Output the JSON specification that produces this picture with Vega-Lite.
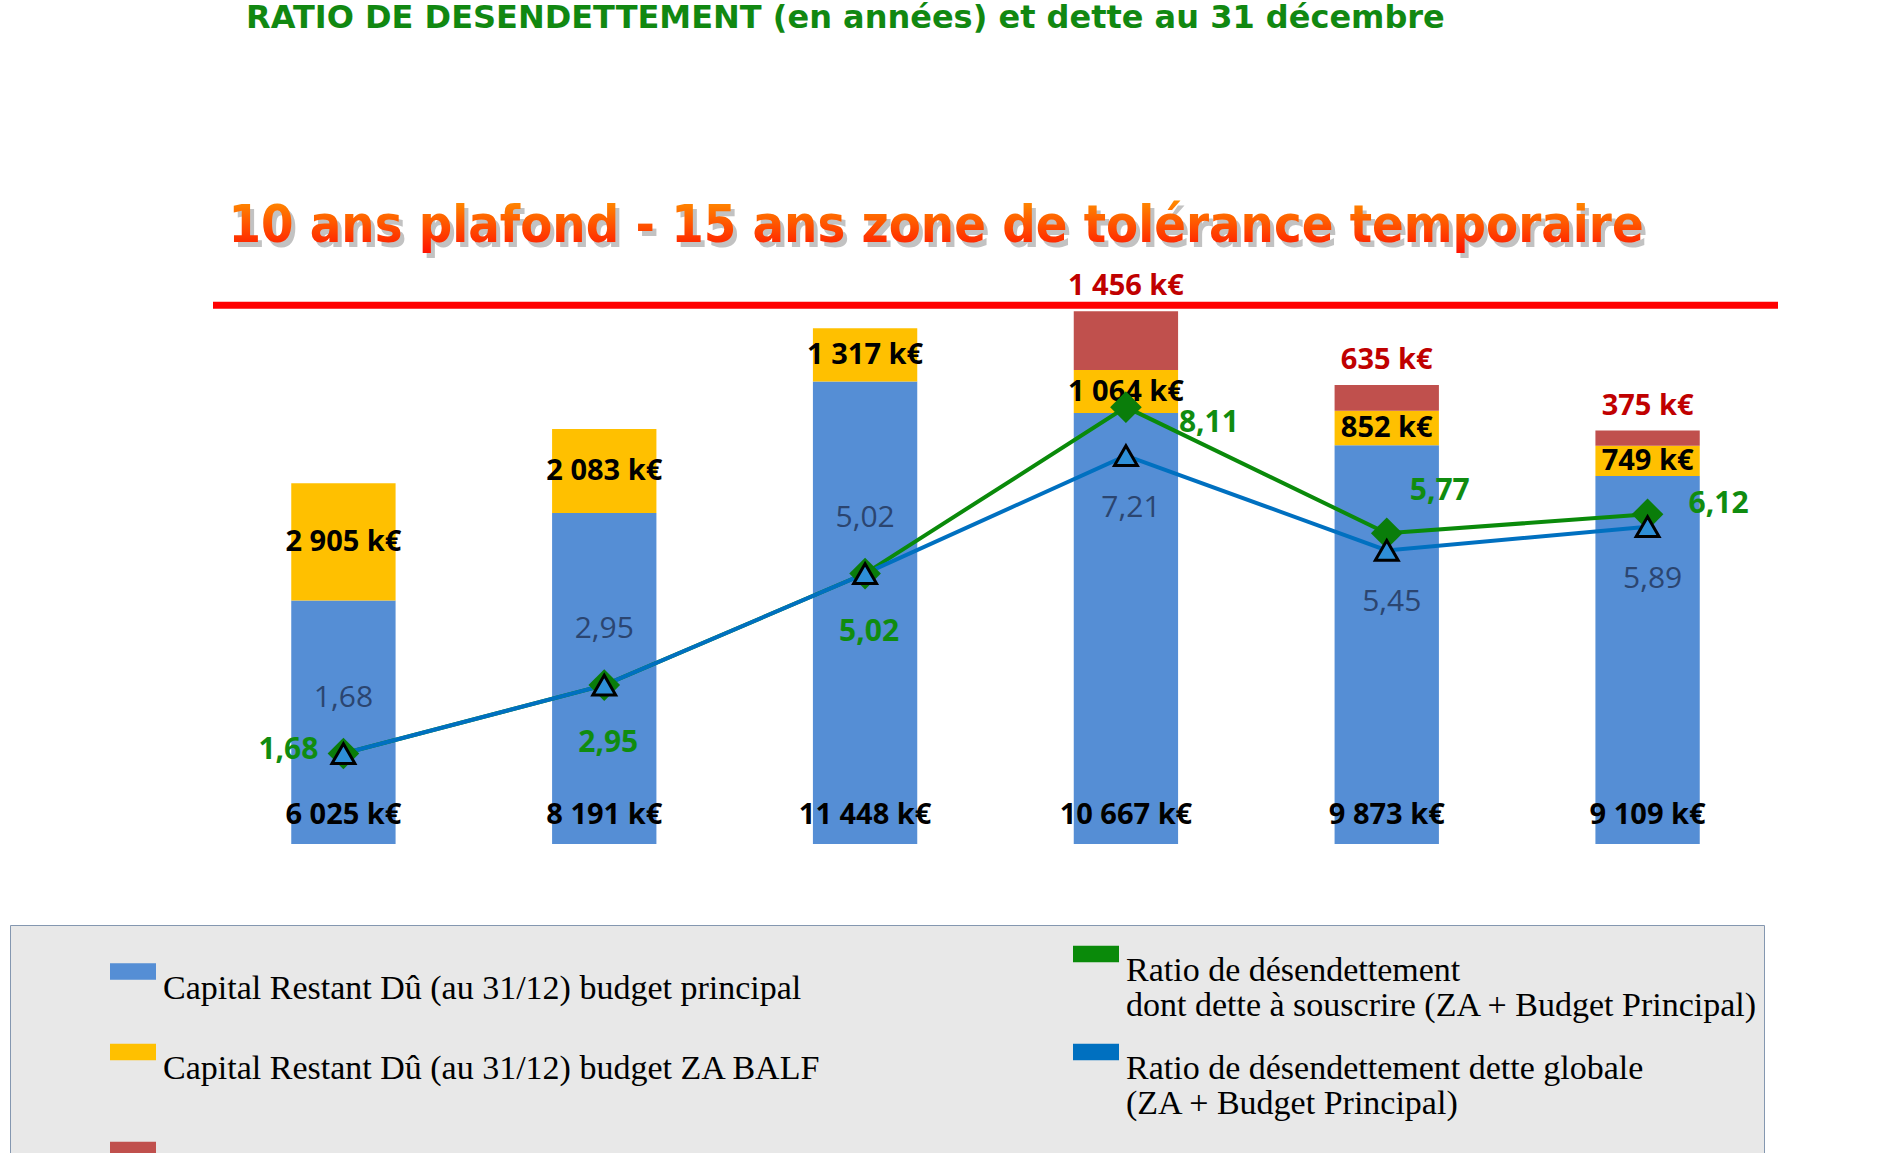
{
  "$schema": "https://vega.github.io/schema/vega-lite/v6.json",
  "width": 1565,
  "height": 808,
  "autosize": {"type": "none"},
  "padding": {"left": 213, "top": 36, "right": 105, "bottom": 309},
  "background": "white",
  "config": {
    "view": {"stroke": null},
    "locale": {"number": {"decimal": ",", "thousands": " ", "grouping": [3], "currency": ["", " k€"]}},
    "style": {"guide-label": {"lineHeight": 35}}
  },
  "title": {
    "text": "RATIO DE DESENDETTEMENT (en années) et dette au 31 décembre",
    "anchor": "start",
    "frame": "group",
    "dx": 33,
    "offset": -24,
    "baseline": "alphabetic",
    "font": "DejaVu Sans",
    "fontSize": 32,
    "fontWeight": "bold",
    "color": "#118811",
    "zindex": 1
  },
  "datasets": {
    "dette": [
      {"annee": "2017", "serie": "Capital Restant Dû (au 31/12) budget principal", "valeur": 6025},
      {"annee": "2017", "serie": "Capital Restant Dû (au 31/12) budget ZA BALF", "valeur": 2905},
      {"annee": "2018", "serie": "Capital Restant Dû (au 31/12) budget principal", "valeur": 8191},
      {"annee": "2018", "serie": "Capital Restant Dû (au 31/12) budget ZA BALF", "valeur": 2083},
      {"annee": "2019", "serie": "Capital Restant Dû (au 31/12) budget principal", "valeur": 11448},
      {"annee": "2019", "serie": "Capital Restant Dû (au 31/12) budget ZA BALF", "valeur": 1317},
      {"annee": "2020", "serie": "Capital Restant Dû (au 31/12) budget principal", "valeur": 10667},
      {"annee": "2020", "serie": "Capital Restant Dû (au 31/12) budget ZA BALF", "valeur": 1064},
      {"annee": "2020", "serie": "Dette à souscrire selon besoin et PPI", "valeur": 1456},
      {"annee": "2021", "serie": "Capital Restant Dû (au 31/12) budget principal", "valeur": 9873},
      {"annee": "2021", "serie": "Capital Restant Dû (au 31/12) budget ZA BALF", "valeur": 852},
      {"annee": "2021", "serie": "Dette à souscrire selon besoin et PPI", "valeur": 635},
      {"annee": "2022", "serie": "Capital Restant Dû (au 31/12) budget principal", "valeur": 9109},
      {"annee": "2022", "serie": "Capital Restant Dû (au 31/12) budget ZA BALF", "valeur": 749},
      {"annee": "2022", "serie": "Dette à souscrire selon besoin et PPI", "valeur": 375}
    ],
    "ratios": [
      {"annee": "2017", "serie": "Ratio de désendettement dont dette à souscrire (ZA + Budget Principal)", "valeur": 1.68},
      {"annee": "2018", "serie": "Ratio de désendettement dont dette à souscrire (ZA + Budget Principal)", "valeur": 2.95},
      {"annee": "2019", "serie": "Ratio de désendettement dont dette à souscrire (ZA + Budget Principal)", "valeur": 5.02},
      {"annee": "2020", "serie": "Ratio de désendettement dont dette à souscrire (ZA + Budget Principal)", "valeur": 8.11},
      {"annee": "2021", "serie": "Ratio de désendettement dont dette à souscrire (ZA + Budget Principal)", "valeur": 5.77},
      {"annee": "2022", "serie": "Ratio de désendettement dont dette à souscrire (ZA + Budget Principal)", "valeur": 6.12},
      {"annee": "2017", "serie": "Ratio de désendettement dette globale (ZA + Budget Principal)", "valeur": 1.68},
      {"annee": "2018", "serie": "Ratio de désendettement dette globale (ZA + Budget Principal)", "valeur": 2.95},
      {"annee": "2019", "serie": "Ratio de désendettement dette globale (ZA + Budget Principal)", "valeur": 5.02},
      {"annee": "2020", "serie": "Ratio de désendettement dette globale (ZA + Budget Principal)", "valeur": 7.21},
      {"annee": "2021", "serie": "Ratio de désendettement dette globale (ZA + Budget Principal)", "valeur": 5.45},
      {"annee": "2022", "serie": "Ratio de désendettement dette globale (ZA + Budget Principal)", "valeur": 5.89}
    ]
  },
  "layer": [
    {
      "layer": [
        {
          "data": {"name": "dette"},
          "transform": [{"calculate": "indexof(['Capital Restant Dû (au 31/12) budget principal', 'Capital Restant Dû (au 31/12) budget ZA BALF', 'Dette à souscrire selon besoin et PPI'], datum.serie)", "as": "rang"}],
          "mark": {"type": "bar", "width": {"band": 0.4}},
          "encoding": {
            "x": {
              "field": "annee", "type": "nominal",
              "scale": {"paddingInner": 0, "paddingOuter": 0},
              "axis": {"title": null, "labelAngle": 0, "labelFont": "Liberation Serif", "labelFontWeight": "bold", "labelFontSize": 33, "labelColor": "#000000", "labelPadding": 8, "tickBand": "extent", "ticks": true, "tickSize": 10, "tickColor": "#A6A6A6", "tickWidth": 2, "domainColor": "#A6A6A6", "domainWidth": 2, "grid": false}
            },
            "y": {
              "field": "valeur", "type": "quantitative", "stack": "zero",
              "scale": {"domain": [0, 20000], "nice": false},
              "axis": {"title": null, "values": [0, 2500, 5000, 7500, 10000, 12500, 15000, 17500, 20000], "format": "$,d", "labelFont": "Liberation Serif", "labelFontWeight": "bold", "labelFontSize": 33, "labelColor": "#000000", "labelPadding": 23, "tickSize": 10, "tickColor": "#A6A6A6", "tickWidth": 2, "domainColor": "#A6A6A6", "domainWidth": 2, "grid": true, "gridColor": "#CFCFCF", "gridWidth": 2}
            },
            "color": {
              "field": "serie", "type": "nominal",
              "scale": {
                "domain": ["Capital Restant Dû (au 31/12) budget principal", "Capital Restant Dû (au 31/12) budget ZA BALF", "Dette à souscrire selon besoin et PPI", "Ratio de désendettement dont dette à souscrire (ZA + Budget Principal)", "Ratio de désendettement dette globale (ZA + Budget Principal)"],
                "range": ["#558ED5", "#FFC000", "#C0504D", "#0A8A0A", "#0070C0"]
              },
              "legend": {
                "orient": "none", "legendX": -203, "legendY": 889,
                "title": null,
                "columns": 2,
                "gridAlign": "all",
                "columnPadding": 157,
                "rowPadding": 6,
                "padding": 6,
                "symbolOffset": 94,
                "symbolSize": 2116,
                "symbolType": "M-1,-0.36H1V0.36H-1Z",
                "symbolStrokeWidth": 0,
                "symbolOpacity": 1,
                "labelFont": "Liberation Serif",
                "labelFontSize": 34,
                "labelColor": "#000000",
                "labelLimit": 1500,
                "labelOffset": 7,
                "labelBaseline": "top",
                "fillColor": "#E8E8E8",
                "strokeColor": "#8497B0",
                "labelExpr": "datum.label == 'Ratio de désendettement dont dette à souscrire (ZA + Budget Principal)' ? ['Ratio de désendettement', 'dont dette à souscrire (ZA + Budget Principal)'] : datum.label == 'Ratio de désendettement dette globale (ZA + Budget Principal)' ? ['Ratio de désendettement dette globale', '(ZA + Budget Principal)'] : datum.label"
              }
            },
            "order": {"field": "rang", "type": "quantitative"}
          }
        },
        {
          "data": {"name": "dette"},
          "transform": [{"filter": "datum.serie == 'Capital Restant Dû (au 31/12) budget principal'"}],
          "mark": {"type": "text", "baseline": "middle", "align": "center", "dy": -29, "font": "Open Sans", "fontWeight": "bold", "fontSize": 29, "color": "#000000"},
          "encoding": {
            "x": {"field": "annee", "type": "nominal", "axis": null},
            "y": {"datum": 0, "type": "quantitative", "axis": null},
            "text": {"field": "valeur", "type": "quantitative", "format": "$,d"}
          }
        },
        {
          "data": {"name": "dette"},
          "transform": [
            {"calculate": "indexof(['Capital Restant Dû (au 31/12) budget principal', 'Capital Restant Dû (au 31/12) budget ZA BALF', 'Dette à souscrire selon besoin et PPI'], datum.serie)", "as": "rang"},
            {"stack": "valeur", "groupby": ["annee"], "sort": [{"field": "rang", "order": "ascending"}], "as": ["bas", "haut"]},
            {"filter": "datum.serie == 'Capital Restant Dû (au 31/12) budget ZA BALF'"},
            {"calculate": "(datum.bas + datum.haut) / 2", "as": "milieu"}
          ],
          "mark": {"type": "text", "baseline": "middle", "align": "center", "font": "Open Sans", "fontWeight": "bold", "fontSize": 29, "color": "#000000"},
          "encoding": {
            "x": {"field": "annee", "type": "nominal", "axis": null},
            "y": {"field": "milieu", "type": "quantitative", "axis": null},
            "text": {"field": "valeur", "type": "quantitative", "format": "$,d"}
          }
        },
        {
          "data": {"name": "dette"},
          "transform": [
            {"calculate": "indexof(['Capital Restant Dû (au 31/12) budget principal', 'Capital Restant Dû (au 31/12) budget ZA BALF', 'Dette à souscrire selon besoin et PPI'], datum.serie)", "as": "rang"},
            {"stack": "valeur", "groupby": ["annee"], "sort": [{"field": "rang", "order": "ascending"}], "as": ["bas", "haut"]},
            {"filter": "datum.serie == 'Dette à souscrire selon besoin et PPI'"}
          ],
          "mark": {"type": "text", "baseline": "middle", "align": "center", "dy": -25, "font": "Open Sans", "fontWeight": "bold", "fontSize": 29, "color": "#C00000"},
          "encoding": {
            "x": {"field": "annee", "type": "nominal", "axis": null},
            "y": {"field": "haut", "type": "quantitative", "axis": null},
            "text": {"field": "valeur", "type": "quantitative", "format": "$,d"}
          }
        },
        {
          "data": {"values": [{"texte": "10 ans plafond - 15 ans zone de tolérance temporaire"}]},
          "mark": {"type": "text", "align": "left", "baseline": "middle", "dx": -111, "dy": 5, "font": "Liberation Sans Narrow, DejaVu Sans Condensed, sans-serif", "fontWeight": "bold", "fontSize": 52, "color": "#9A9A9A", "opacity": 0.6},
          "encoding": {
            "x": {"datum": "2017", "type": "nominal", "axis": null},
            "y": {"datum": 15300, "type": "quantitative", "axis": null},
            "text": {"field": "texte", "type": "nominal"}
          }
        },
        {
          "data": {"values": [{"texte": "10 ans plafond - 15 ans zone de tolérance temporaire"}]},
          "mark": {
            "type": "text", "align": "left", "baseline": "middle", "dx": -115, "font": "Liberation Sans Narrow, DejaVu Sans Condensed, sans-serif", "fontWeight": "bold", "fontSize": 52,
            "fill": {"gradient": "linear", "x1": 0, "y1": 0, "x2": 0, "y2": 1, "stops": [{"offset": 0, "color": "#FF9A00"}, {"offset": 1, "color": "#FF1000"}]}
          },
          "encoding": {
            "x": {"datum": "2017", "type": "nominal", "axis": null},
            "y": {"datum": 15300, "type": "quantitative", "axis": null},
            "text": {"field": "texte", "type": "nominal"}
          }
        }
      ]
    },
    {
      "layer": [
        {
          "data": {"values": [{"seuil": 10}]},
          "mark": {"type": "rule", "color": "#FF0000", "strokeWidth": 7},
          "encoding": {
            "y": {
              "field": "seuil", "type": "quantitative",
              "scale": {"domain": [0, 15], "nice": false},
              "axis": {"orient": "right", "title": null, "values": [0, 2, 4, 6, 8, 10, 12, 14], "labelFont": "Liberation Serif", "labelFontWeight": "bold", "labelFontSize": 32, "labelColor": "#0070C0", "labelPadding": 22, "tickSize": 10, "tickColor": "#A6A6A6", "tickWidth": 2, "domainColor": "#A6A6A6", "domainWidth": 2, "grid": false}
            }
          }
        },
        {
          "data": {"name": "ratios"},
          "mark": {"type": "line", "strokeWidth": 4},
          "encoding": {
            "x": {"field": "annee", "type": "nominal", "axis": null},
            "y": {"field": "valeur", "type": "quantitative", "axis": null},
            "color": {"field": "serie", "type": "nominal", "legend": null}
          }
        },
        {
          "data": {"name": "ratios"},
          "transform": [{"filter": "datum.serie == 'Ratio de désendettement dont dette à souscrire (ZA + Budget Principal)'"}],
          "mark": {"type": "point", "shape": "diamond", "filled": true, "size": 1000, "color": "#0A7D0A", "opacity": 1},
          "encoding": {
            "x": {"field": "annee", "type": "nominal", "axis": null},
            "y": {"field": "valeur", "type": "quantitative", "axis": null}
          }
        },
        {
          "data": {"name": "ratios"},
          "transform": [{"filter": "datum.serie == 'Ratio de désendettement dette globale (ZA + Budget Principal)'"}],
          "mark": {"type": "point", "shape": "triangle-up", "filled": true, "size": 520, "fill": "#2E8FD8", "stroke": "#000000", "strokeWidth": 3, "opacity": 1},
          "encoding": {
            "x": {"field": "annee", "type": "nominal", "axis": null},
            "y": {"field": "valeur", "type": "quantitative", "axis": null}
          }
        },
        {
          "data": {"name": "ratios"},
          "transform": [{"filter": "datum.serie == 'Ratio de désendettement dette globale (ZA + Budget Principal)' && datum.annee <= '2019'"}],
          "mark": {"type": "text", "baseline": "middle", "align": "center", "dy": -56, "font": "Open Sans", "fontSize": 30, "color": "#2B4570"},
          "encoding": {
            "x": {"field": "annee", "type": "nominal", "axis": null},
            "y": {"field": "valeur", "type": "quantitative", "axis": null},
            "text": {"field": "valeur", "type": "quantitative", "format": ",.2f"}
          }
        },
        {
          "data": {"name": "ratios"},
          "transform": [{"filter": "datum.serie == 'Ratio de désendettement dette globale (ZA + Budget Principal)' && datum.annee >= '2020'"}],
          "mark": {"type": "text", "baseline": "middle", "align": "center", "dx": 5, "dy": 52, "font": "Open Sans", "fontSize": 30, "color": "#2B4570"},
          "encoding": {
            "x": {"field": "annee", "type": "nominal", "axis": null},
            "y": {"field": "valeur", "type": "quantitative", "axis": null},
            "text": {"field": "valeur", "type": "quantitative", "format": ",.2f"}
          }
        },
        {
          "data": {"name": "ratios"},
          "transform": [{"filter": "datum.serie == 'Ratio de désendettement dont dette à souscrire (ZA + Budget Principal)' && datum.annee == '2017'"}],
          "mark": {"type": "text", "baseline": "middle", "align": "right", "dx": -25, "dy": -4, "font": "Open Sans", "fontWeight": "bold", "fontSize": 30, "color": "#108C10"},
          "encoding": {
            "x": {"field": "annee", "type": "nominal", "axis": null},
            "y": {"field": "valeur", "type": "quantitative", "axis": null},
            "text": {"field": "valeur", "type": "quantitative", "format": ",.2f"}
          }
        },
        {
          "data": {"name": "ratios"},
          "transform": [{"filter": "datum.serie == 'Ratio de désendettement dont dette à souscrire (ZA + Budget Principal)' && (datum.annee == '2018' || datum.annee == '2019')"}],
          "mark": {"type": "text", "baseline": "middle", "align": "center", "dx": 4, "dy": 58, "font": "Open Sans", "fontWeight": "bold", "fontSize": 30, "color": "#108C10"},
          "encoding": {
            "x": {"field": "annee", "type": "nominal", "axis": null},
            "y": {"field": "valeur", "type": "quantitative", "axis": null},
            "text": {"field": "valeur", "type": "quantitative", "format": ",.2f"}
          }
        },
        {
          "data": {"name": "ratios"},
          "transform": [{"filter": "datum.serie == 'Ratio de désendettement dont dette à souscrire (ZA + Budget Principal)' && datum.annee == '2020'"}],
          "mark": {"type": "text", "baseline": "middle", "align": "left", "dx": 53, "dy": 16, "font": "Open Sans", "fontWeight": "bold", "fontSize": 30, "color": "#108C10"},
          "encoding": {
            "x": {"field": "annee", "type": "nominal", "axis": null},
            "y": {"field": "valeur", "type": "quantitative", "axis": null},
            "text": {"field": "valeur", "type": "quantitative", "format": ",.2f"}
          }
        },
        {
          "data": {"name": "ratios"},
          "transform": [{"filter": "datum.serie == 'Ratio de désendettement dont dette à souscrire (ZA + Budget Principal)' && datum.annee == '2021'"}],
          "mark": {"type": "text", "baseline": "middle", "align": "left", "dx": 23, "dy": -42, "font": "Open Sans", "fontWeight": "bold", "fontSize": 30, "color": "#108C10"},
          "encoding": {
            "x": {"field": "annee", "type": "nominal", "axis": null},
            "y": {"field": "valeur", "type": "quantitative", "axis": null},
            "text": {"field": "valeur", "type": "quantitative", "format": ",.2f"}
          }
        },
        {
          "data": {"name": "ratios"},
          "transform": [{"filter": "datum.serie == 'Ratio de désendettement dont dette à souscrire (ZA + Budget Principal)' && datum.annee == '2022'"}],
          "mark": {"type": "text", "baseline": "middle", "align": "left", "dx": 41, "dy": -10, "font": "Open Sans", "fontWeight": "bold", "fontSize": 30, "color": "#108C10"},
          "encoding": {
            "x": {"field": "annee", "type": "nominal", "axis": null},
            "y": {"field": "valeur", "type": "quantitative", "axis": null},
            "text": {"field": "valeur", "type": "quantitative", "format": ",.2f"}
          }
        }
      ]
    }
  ],
  "resolve": {"scale": {"y": "independent"}}
}
